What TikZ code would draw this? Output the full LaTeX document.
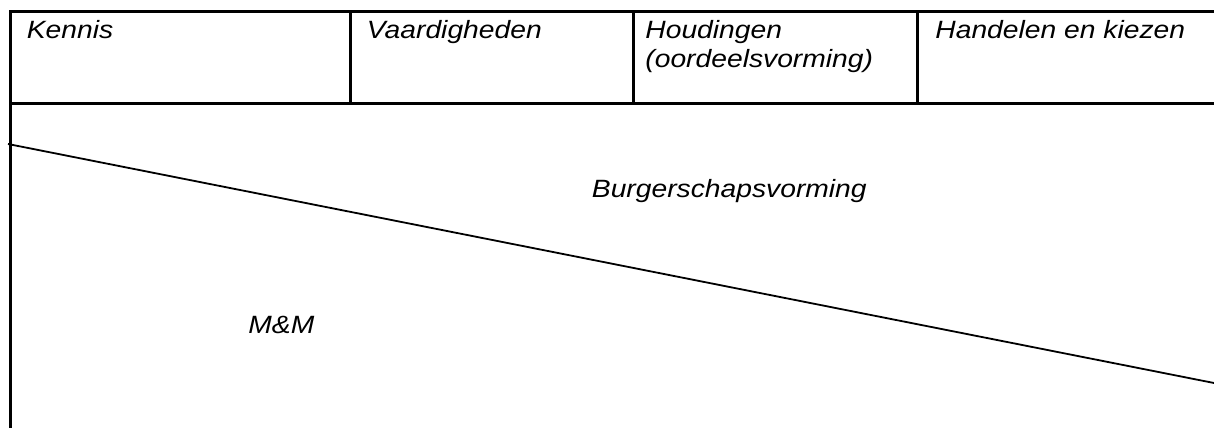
\documentclass[tikz,border=0pt]{standalone}
\usepackage{fontspec}
\newfontfamily\celfont[FakeStretch=1.13]{Liberation Sans}
\usetikzlibrary{positioning}
\tikzset{
    celtext/.style={anchor=base west, inner sep=0pt, font=\celfont\itshape\fontsize{12.5}{14.5}\selectfont, align=left},
    gridline/.style={line width=1.5pt},
    slantline/.style={line width=0.9pt}
}

\begin{document}
\begin{tikzpicture}[x=0.5pt,y=-0.5pt]
    \useasboundingbox (0,0) rectangle (1214,428);

    % table frame
    \draw[gridline] (1214,11) -- (10,11) -- (10,428);
    \draw[gridline] (10,103) -- (1214,103);
    \foreach \xc in {350,633,917}
        \draw[gridline] (\xc,11) -- (\xc,103);

    % header cells
    \node[celtext] (kennis) at (26.5,38) {Kennis};
    \node[celtext] (vaardig) at (366.5,38) {Vaardigheden};
    \node[celtext] (houding) at (645,67) {Houdingen\\(oordeelsvorming)};
    \node[celtext] (handel) at (935,38) {Handelen en kiezen};

    % diagonal split
    \coordinate (slant_start) at (8,144);
    \coordinate (slant_end) at (1214,383);
    \draw[slantline] (slant_start) -- (slant_end);

    % area labels
    \node[celtext] (burger) at (591.5,197) {Burgerschapsvorming};
    \node[celtext] (mm) at (248,333) {M\&M};
\end{tikzpicture}
\end{document}
